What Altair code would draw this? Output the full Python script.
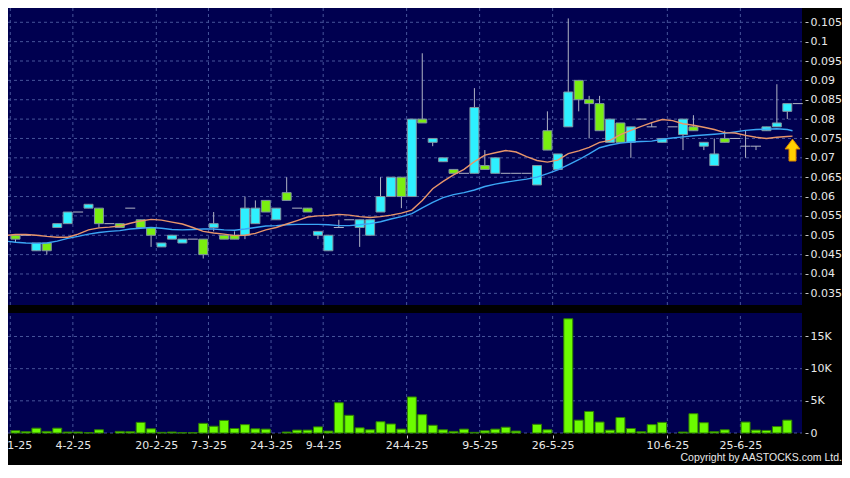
import json
import altair as alt
import pandas as pd

# ---------------- data ----------------
slots = list(range(76))
opens = [0.050, 0.050, 0.046, 0.048, 0.052, 0.053, 0.056, 0.057, 0.057, 0.053,
         0.053, 0.057, 0.054, 0.052, 0.047, 0.049, 0.048, 0.049, 0.049, 0.052,
         0.050, 0.050, 0.050, 0.053, 0.059, 0.054, 0.061, 0.057, 0.057, 0.050,
         0.046, 0.052, 0.054, 0.052, 0.050, 0.056, 0.060, 0.065, 0.060, 0.080,
         0.074, 0.069, 0.067, 0.066, 0.066, 0.068, 0.066, 0.066, 0.066, 0.066,
         0.063, 0.077, 0.067, 0.078, 0.090, 0.085, 0.084, 0.074, 0.079, 0.074,
         0.080, 0.078, 0.074, 0.078, 0.076, 0.078, 0.073, 0.068, 0.075, 0.075,
         0.073, 0.073, 0.077, 0.078, 0.082, 0.084]
highs = [0.050, 0.050, 0.048, 0.048, 0.053, 0.056, 0.056, 0.058, 0.057, 0.053,
         0.053, 0.057, 0.054, 0.052, 0.048, 0.050, 0.049, 0.049, 0.049, 0.056,
         0.050, 0.051, 0.060, 0.059, 0.059, 0.057, 0.065, 0.057, 0.057, 0.051,
         0.050, 0.054, 0.054, 0.054, 0.054, 0.065, 0.065, 0.065, 0.080, 0.097,
         0.075, 0.070, 0.067, 0.066, 0.088, 0.072, 0.070, 0.066, 0.066, 0.066,
         0.068, 0.082, 0.071, 0.106, 0.090, 0.086, 0.086, 0.080, 0.079, 0.078,
         0.080, 0.079, 0.075, 0.078, 0.080, 0.081, 0.074, 0.075, 0.077, 0.075,
         0.077, 0.073, 0.078, 0.089, 0.084, 0.084]
lows = [0.048, 0.050, 0.046, 0.045, 0.052, 0.053, 0.056, 0.057, 0.052, 0.053,
        0.052, 0.057, 0.052, 0.047, 0.047, 0.049, 0.048, 0.049, 0.044, 0.051,
        0.049, 0.049, 0.049, 0.053, 0.056, 0.054, 0.059, 0.057, 0.056, 0.049,
        0.046, 0.052, 0.054, 0.047, 0.050, 0.056, 0.060, 0.057, 0.060, 0.079,
        0.073, 0.069, 0.066, 0.066, 0.066, 0.067, 0.066, 0.066, 0.066, 0.066,
        0.063, 0.072, 0.067, 0.078, 0.082, 0.075, 0.077, 0.074, 0.074, 0.070,
        0.080, 0.078, 0.074, 0.078, 0.072, 0.077, 0.072, 0.068, 0.074, 0.075,
        0.070, 0.072, 0.077, 0.078, 0.080, 0.084]
closes = [0.049, 0.050, 0.048, 0.046, 0.053, 0.056, 0.056, 0.058, 0.053, 0.053,
          0.052, 0.057, 0.052, 0.050, 0.048, 0.050, 0.049, 0.049, 0.045, 0.053,
          0.049, 0.049, 0.057, 0.057, 0.056, 0.057, 0.059, 0.057, 0.056, 0.051,
          0.050, 0.052, 0.054, 0.054, 0.054, 0.060, 0.065, 0.060, 0.080, 0.079,
          0.075, 0.070, 0.066, 0.066, 0.083, 0.067, 0.070, 0.066, 0.066, 0.066,
          0.068, 0.072, 0.071, 0.087, 0.085, 0.084, 0.077, 0.080, 0.074, 0.078,
          0.080, 0.078, 0.075, 0.078, 0.080, 0.077, 0.074, 0.071, 0.074, 0.075,
          0.073, 0.073, 0.078, 0.079, 0.084, 0.084]
volumes = [350, 200, 750, 250, 750, 150, 150, 50, 500, 0,
           250, 200, 1650, 650, 100, 150, 50, 50, 1500, 1050,
           1950, 700, 1300, 650, 600, 0, 150, 450, 450, 950,
           300, 4700, 2750, 800, 500, 1750, 1400, 600, 5600, 2850,
           1200, 500, 250, 600, 100, 350, 600, 900, 300, 0,
           1350, 500, 0, 17750, 2000, 3350, 1700, 450, 2400, 700,
           200, 1300, 1650, 0, 150, 3000, 1600, 200, 500, 0,
           1700, 450, 400, 1000, 2000, 0]

ma_slots = list(range(-2, 75)) + [74.5]
ma_short = [0.0497, 0.0499, 0.0502, 0.0502, 0.0500, 0.0497, 0.0495, 0.0495, 0.0503, 0.0514,
            0.0519, 0.0521, 0.0524, 0.0531, 0.0537, 0.0541, 0.0539, 0.0534, 0.0529, 0.0520,
            0.0510, 0.0506, 0.0503, 0.0499, 0.0500, 0.0505, 0.0514, 0.0520, 0.0529, 0.0538,
            0.0547, 0.0550, 0.0551, 0.0554, 0.0552, 0.0548, 0.0546, 0.0548, 0.0552, 0.0557,
            0.0565, 0.0590, 0.0620, 0.0639, 0.0656, 0.0670, 0.0690, 0.0707, 0.0713, 0.0719,
            0.0715, 0.0703, 0.0693, 0.0689, 0.0694, 0.0711, 0.0718, 0.0727, 0.0740, 0.0745,
            0.0760, 0.0771, 0.0781, 0.0791, 0.0799, 0.0796, 0.0788, 0.0784, 0.0779, 0.0773,
            0.0765, 0.0764, 0.0758, 0.0753, 0.0750, 0.0753, 0.0755, 0.0756]
ma_long = [0.0488, 0.0485, 0.0482, 0.0480, 0.0479, 0.0480, 0.0485, 0.0492, 0.0497, 0.0503,
           0.0507, 0.0510, 0.0512, 0.0516, 0.0518, 0.0520, 0.0518, 0.0515, 0.0514, 0.0515,
           0.0516, 0.0516, 0.0514, 0.0513, 0.0516, 0.0520, 0.0524, 0.0525, 0.0527, 0.0528,
           0.0528, 0.0528, 0.0527, 0.0525, 0.0525, 0.0527, 0.0530, 0.0535, 0.0542, 0.0548,
           0.0556, 0.0571, 0.0585, 0.0597, 0.0605, 0.0610, 0.0617, 0.0626, 0.0632, 0.0637,
           0.0641, 0.0645, 0.0650, 0.0659, 0.0669, 0.0682, 0.0695, 0.0710, 0.0726, 0.0733,
           0.0738, 0.0741, 0.0742, 0.0743, 0.0748, 0.0751, 0.0754, 0.0757, 0.0759, 0.0761,
           0.0763, 0.0767, 0.0771, 0.0773, 0.0774, 0.0775, 0.0773, 0.0770]

label_slots = [0, 6, 14, 19, 25, 30, 38, 45, 52, 63, 70]
label_texts = ["22-1-25", "4-2-25", "20-2-25", "7-3-25", "24-3-25", "9-4-25",
               "24-4-25", "9-5-25", "26-5-25", "10-6-25", "25-6-25"]
price_ticks = [0.035, 0.04, 0.045, 0.05, 0.055, 0.06, 0.065, 0.07, 0.075,
               0.08, 0.085, 0.09, 0.095, 0.1, 0.105]
volume_ticks = [0, 5000, 10000, 15000]
signal_slot = [74.5]
signal_price = [0.0720]
copyright_text = "Copyright by AASTOCKS.com Ltd."

# ---------------- layout / style ----------------
X_MIN, X_MAX = -0.72, 75.41
P_MIN, P_MAX = 0.03199, 0.10869
V_MAX = 18650
W, H = 794, 425
PRICE_RANGE = [297, 0]
VOL_RANGE = [425, 305]

NAVY = "#000050"
GRID = "#46549a"
CYAN = "#2ef0ff"
GREEN = "#7aee10"
VOL_GREEN = "#6cfc00"
BODY_STROKE = "#8095a0"
WICK = "#b0b4c4"
ORANGE = "#e8956a"
BLUE = "#3ba6f5"
LABEL = "#e8e8e8"
TICK = "#c8c8c8"
FONT = "DejaVu Sans"

xs = alt.Scale(domain=[X_MIN, X_MAX], nice=False, zero=False)
ps = alt.Scale(domain=[P_MIN, P_MAX], range=PRICE_RANGE, nice=False, zero=False)
vs = alt.Scale(domain=[0, V_MAX], range=VOL_RANGE, nice=False, zero=False)

grid_vals = [s - 0.5 for s in label_slots]
label_expr = f"{json.dumps(label_texts)}[indexof({json.dumps(grid_vals)}, datum.value)]"

x_axis = alt.Axis(values=grid_vals, labelExpr=label_expr, orient="bottom", grid=False,
                  domain=False, tickSize=3, tickColor=TICK, offset=2, labelPadding=1,
                  labelFont=FONT, labelFontSize=11, labelColor=LABEL,
                  labelFlush=False, labelOverlap=False, title=None)
price_axis = alt.Axis(values=price_ticks, format=".3~f", orient="right", grid=False,
                      domain=False, tickSize=3, tickColor=TICK, offset=3, labelPadding=2,
                      labelFont=FONT, labelFontSize=11, labelColor=LABEL,
                      labelOverlap=False, labelFlush=False, title=None)
vol_axis = alt.Axis(values=volume_ticks,
                    labelExpr="datum.value == 0 ? '0' : (datum.value / 1000) + 'K'",
                    orient="right", grid=False, domain=False, tickSize=3, tickColor=TICK,
                    offset=3, labelPadding=2, labelFont=FONT, labelFontSize=11,
                    labelColor=LABEL, labelOverlap=False, labelFlush=False, title=None)

# ---------------- tables ----------------
df = pd.DataFrame({"slot": slots, "open": opens, "high": highs, "low": lows,
                   "close": closes, "volume": volumes})
df["dir"] = ["up" if c > o else ("down" if c < o else "flat") for o, c in zip(opens, closes)]
df["x0"] = df["slot"] - 0.43
df["x1"] = df["slot"] + 0.43
df["d0"] = df["slot"] - 0.48
df["d1"] = df["slot"] + 0.48
bodies = df[df["dir"] != "flat"]
dojis = df[df["dir"] == "flat"]
vols = df[df["volume"] > 0]

ma_df = pd.DataFrame({"slot": ma_slots, "short": ma_short, "long": ma_long})
panel = pd.DataFrame({"x0": [X_MIN], "x1": [X_MAX], "p0": [P_MIN], "p1": [P_MAX],
                      "v0": [0], "v1": [V_MAX]})
vgrid = pd.DataFrame({"gx": grid_vals, "p0": P_MIN, "p1": P_MAX, "v0": 0, "v1": V_MAX})
pgrid = pd.DataFrame({"y": price_ticks, "x0": X_MIN, "x1": X_MAX})
vhgrid = pd.DataFrame({"y": volume_ticks, "x0": X_MIN, "x1": X_MAX})
signal = pd.DataFrame({"slot": signal_slot, "price": signal_price})

X = lambda f: alt.X(f, scale=xs, axis=x_axis)

price_bg = alt.Chart(panel).mark_rect(fill=NAVY).encode(
    x=X("x0:Q"), x2="x1:Q",
    y=alt.Y("p0:Q", scale=ps, axis=price_axis), y2="p1:Q")
vol_bg = alt.Chart(panel).mark_rect(fill=NAVY).encode(
    x=X("x0:Q"), x2="x1:Q",
    y=alt.Y("v0:Q", scale=vs, axis=vol_axis), y2="v1:Q")

grid_style = dict(color=GRID, strokeWidth=1, strokeDash=[3, 3])
p_hgrid = alt.Chart(pgrid).mark_rule(**grid_style).encode(
    x=X("x0:Q"), x2="x1:Q", y=alt.Y("y:Q", scale=ps, axis=None))
p_vgrid = alt.Chart(vgrid).mark_rule(**grid_style).encode(
    x=X("gx:Q"), y=alt.Y("p0:Q", scale=ps, axis=None), y2="p1:Q")
v_hgrid = alt.Chart(vhgrid).mark_rule(**grid_style).encode(
    x=X("x0:Q"), x2="x1:Q", y=alt.Y("y:Q", scale=vs, axis=None))
v_vgrid = alt.Chart(vgrid).mark_rule(**grid_style).encode(
    x=X("gx:Q"), y=alt.Y("v0:Q", scale=vs, axis=None), y2="v1:Q")

wicks = alt.Chart(df).mark_rule(color=WICK, strokeWidth=1).encode(
    x=X("slot:Q"), y=alt.Y("low:Q", scale=ps, axis=None), y2="high:Q")
body = alt.Chart(bodies).mark_rect(stroke=BODY_STROKE, strokeWidth=1).encode(
    x=X("x0:Q"), x2="x1:Q",
    y=alt.Y("open:Q", scale=ps, axis=None), y2="close:Q",
    fill=alt.Fill("dir:N", scale=alt.Scale(domain=["up", "down"], range=[CYAN, GREEN]),
                  legend=None))
doji = alt.Chart(dojis).mark_rule(color=WICK, strokeWidth=1).encode(
    x=X("d0:Q"), x2="d1:Q", y=alt.Y("close:Q", scale=ps, axis=None))

line_long = alt.Chart(ma_df).mark_line(color=BLUE, strokeWidth=1.4, clip=True).encode(
    x=X("slot:Q"), y=alt.Y("long:Q", scale=ps, axis=None))
line_short = alt.Chart(ma_df).mark_line(color=ORANGE, strokeWidth=1.4, clip=True).encode(
    x=X("slot:Q"), y=alt.Y("short:Q", scale=ps, axis=None))

vol_bars = alt.Chart(vols).mark_rect(fill=VOL_GREEN, stroke="#2f8000", strokeWidth=1).encode(
    x=X("x0:Q"), x2="x1:Q",
    y=alt.Y("volume:Q", scale=vs, axis=None), y2=alt.datum(0))

arrow_path = "M0,-1L0.68,-0.1L0.32,-0.1L0.32,1L-0.32,1L-0.32,-0.1L-0.68,-0.1Z"
arrow = alt.Chart(signal).mark_point(shape=arrow_path, size=480, filled=True,
                                     fill="#ffd000", stroke="#d88000", strokeWidth=1,
                                     opacity=1).encode(
    x=X("slot:Q"), y=alt.Y("price:Q", scale=ps, axis=None))

chart = alt.layer(
    price_bg, vol_bg, p_hgrid, p_vgrid, v_hgrid, v_vgrid,
    wicks, body, doji, line_long, line_short, vol_bars, arrow
).resolve_scale(y="independent").properties(
    width=W, height=H,
    autosize=alt.AutoSizeParams(type="none"),
    padding={"left": 0, "top": 0, "right": 40, "bottom": 32},
    background="#000000",
    title=alt.TitleParams(copyright_text, orient="bottom", anchor="end", frame="group",
                          dx=40, offset=3, font="Liberation Sans",
                          fontSize=10.5, fontWeight="normal", color=LABEL),
).configure_view(strokeWidth=0)

chart.save("out.html", embed_options={"renderer": "svg", "actions": False})
